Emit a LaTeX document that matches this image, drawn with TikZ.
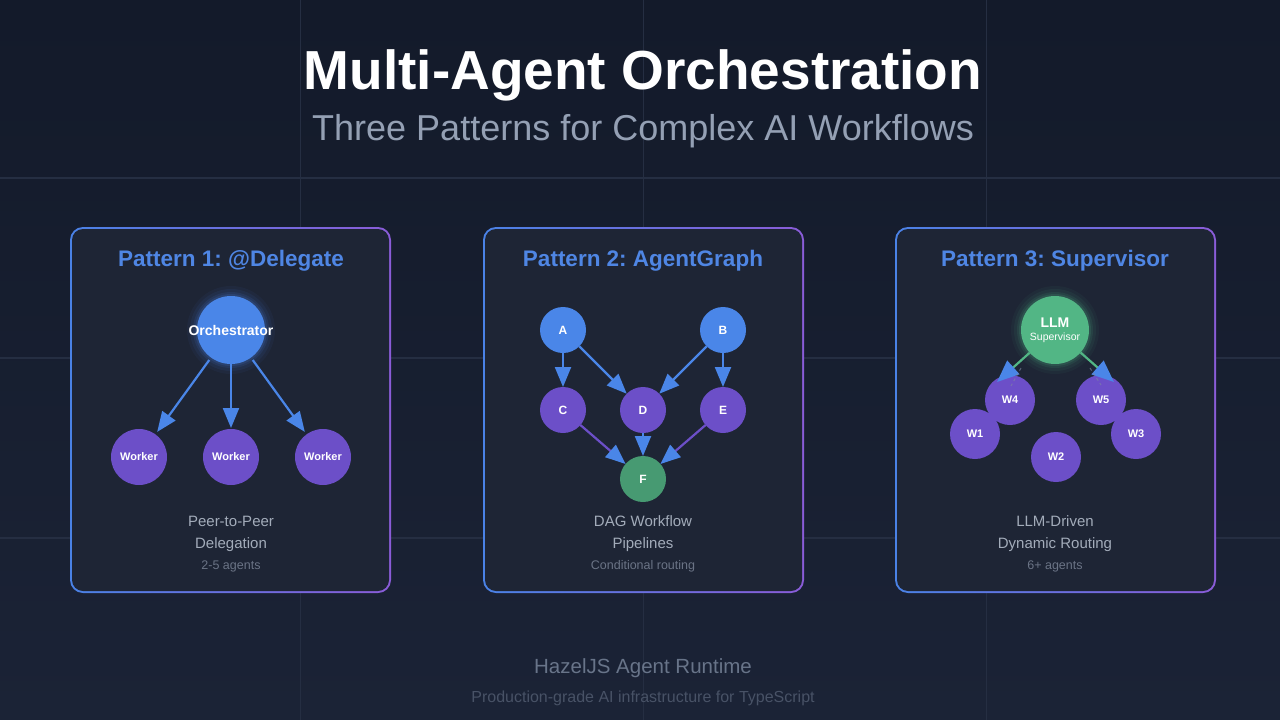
\documentclass[tikz,border=0pt]{standalone}
\usepackage{fontspec}
\setmainfont{Liberation Sans}
\usetikzlibrary{arrows.meta}
\frenchspacing
\definecolor{bgtop}{HTML}{131A2A}
\definecolor{bgbot}{HTML}{1B2336}
\definecolor{gridc}{HTML}{252E42}
\definecolor{panelc}{HTML}{1E2535}
\definecolor{bblue}{HTML}{4A82E6}
\definecolor{bpurple}{HTML}{8A5CD8}
\definecolor{tblue}{HTML}{4F86E4}
\definecolor{nblue}{HTML}{4A86E8}
\definecolor{npurple}{HTML}{6C4FC8}
\definecolor{ngreen}{HTML}{479A72}
\definecolor{lgreen}{HTML}{52B685}
\definecolor{subc}{HTML}{94A0B4}
\definecolor{descc}{HTML}{A3ACBA}
\definecolor{smallc}{HTML}{6B7486}
\definecolor{footc}{HTML}{687489}
\definecolor{foottwoc}{HTML}{485266}
\definecolor{dashc}{HTML}{8088A0}
\newcommand{\fsz}[2]{\fontsize{#1}{#2}\selectfont}
\newcommand{\drawpanel}[1]{%
  \shade[left color=bblue, right color=bpurple, rounded corners=13pt] (#1,227) rectangle ++(321,366);
  \fill[panelc, rounded corners=11pt] (#1+2,229) rectangle ++(317,362);
}
\tikzset{
  txt/.style={inner sep=0pt, outer sep=0pt, anchor=base},
  ptitle/.style={txt, text=tblue, font=\bfseries\fsz{22.5}{26}},
  desc/.style={txt, text=descc, font=\fsz{15}{18}},
  small/.style={txt, text=smallc, font=\fsz{12.5}{15}},
  circ/.style={circle, inner sep=0pt, outer sep=0pt, text=white},
  orchc/.style={circ, fill=nblue, minimum size=68pt},
  workc/.style={circ, fill=npurple, minimum size=56pt, font=\bfseries\fsz{11}{13}},
  dagb/.style={circ, fill=nblue, minimum size=46pt, font=\bfseries\fsz{12}{14}},
  dagp/.style={circ, fill=npurple, minimum size=46pt, font=\bfseries\fsz{12}{14}},
  dagg/.style={circ, fill=ngreen, minimum size=46pt, font=\bfseries\fsz{12}{14}},
  llmc/.style={circ, fill=lgreen, minimum size=68pt, align=center},
  wsc/.style={circ, fill=npurple, minimum size=50pt, font=\bfseries\fsz{11}{13}},
  arr/.style={line width=2.2pt, draw=nblue, -{Triangle[length=20pt,width=16pt,color=nblue]}},
  parr/.style={line width=2.2pt, draw=npurple, -{Triangle[length=20pt,width=16pt,color=nblue]}},
  garr/.style={line width=2.2pt, draw=lgreen, -{Triangle[length=22pt,width=18pt,color=nblue]}},
  dline/.style={draw=dashc, line width=1pt, dashed, opacity=0.6},
}
\begin{document}
\begin{tikzpicture}[x=1pt,y=-1pt]
\useasboundingbox (0,0) rectangle (1280,720);
% background
\shade[top color=bgtop, bottom color=bgbot] (0,0) rectangle (1280,720);
\foreach \gx in {300,643,986} { \draw[gridc, line width=1pt] (\gx,0) -- (\gx,720); }
\foreach \gy in {178,358,538} { \draw[gridc, line width=1.2pt] (0,\gy) -- (1280,\gy); }

% titles
\node[txt, text=white, font=\bfseries\fsz{55}{60}] (title) at (643,89) {Multi-Agent Orchestration};
\node[txt, text=subc, font=\fsz{36}{40}] (subtitle) at (643,140) {Three Patterns for Complex AI Workflows};

% panels
\drawpanel{70}
\drawpanel{483}
\drawpanel{895}

% ---------- Panel 1
\node[ptitle] (p1t) at (231,266.5) {Pattern 1: @Delegate};
\foreach \r/\o in {44/0.05,41/0.07,38/0.1,36/0.14} { \fill[nblue, opacity=\o] (231,330) circle (\r); }
\node[orchc] (orch) at (231,330) {};
\node[circ, font=\bfseries\fsz{14}{16}] (orchT) at (orch.center) {Orchestrator};
\node[workc] (wa) at (139,457) {Worker};
\node[workc] (wb) at (231,457) {Worker};
\node[workc] (wc) at (323,457) {Worker};
\draw[arr, shorten <=3pt, shorten >=3pt] (orch) -- (wa);
\draw[arr, shorten <=0pt, shorten >=1pt] (orch) -- (wb);
\draw[arr, shorten <=3pt, shorten >=3pt] (orch) -- (wc);
\node[desc] (p1d1) at (231,526) {Peer-to-Peer};
\node[desc] (p1d2) at (231,548) {Delegation};
\node[small] (p1d3) at (231,569.5) {2-5 agents};

% ---------- Panel 2
\node[ptitle] (p2t) at (643,266.5) {Pattern 2: AgentGraph};
\node[dagb] (A) at (563,330) {A};
\node[dagb] (B) at (723,330) {B};
\node[dagp] (C) at (563,410) {C};
\node[dagp] (D) at (643,410) {D};
\node[dagp] (E) at (723,410) {E};
\node[dagg] (F) at (643,479) {F};
\draw[arr] (A) -- (C);
\draw[arr] (A) -- (D);
\draw[arr] (B) -- (D);
\draw[arr] (B) -- (E);
\draw[parr] (C) -- (F);
\draw[arr] (D) -- (F);
\draw[parr] (E) -- (F);
\node[desc] (p2d1) at (643,526) {DAG Workflow};
\node[desc] (p2d2) at (643,548) {Pipelines};
\node[small] (p2d3) at (643,569.5) {Conditional routing};

% ---------- Panel 3
\node[ptitle] (p3t) at (1055,266.5) {Pattern 3: Supervisor};
\foreach \r/\o in {44/0.05,41/0.07,38/0.1,36/0.14} { \fill[lgreen, opacity=\o] (1055,330) circle (\r); }
\node[llmc] (llm) at (1055,330) {{\bfseries\fsz{14}{14}LLM}\\[1pt]{\fsz{10.5}{12}Supervisor}};
\node[wsc] (W1) at (975,434) {W1};
\node[wsc] (W3) at (1136,434) {W3};
\node[wsc] (W2) at (1056,457) {W2};
\node[wsc] (W4) at (1010,400) {W4};
\node[wsc] (W5) at (1101,400) {W5};
\coordinate (t4) at (997,382);
\coordinate (t5) at (1114,382);
\draw[garr] (llm) -- (t4);
\draw[garr] (llm) -- (t5);
\coordinate (d4a) at (1021,368);
\coordinate (d4b) at (1011,386);
\coordinate (d5a) at (1090,368);
\coordinate (d5b) at (1101,385);
\draw[dline] (d4a) -- (d4b);
\draw[dline] (d5a) -- (d5b);
\node[desc] (p3d1) at (1055,526) {LLM-Driven};
\node[desc] (p3d2) at (1055,548) {Dynamic Routing};
\node[small] (p3d3) at (1055,569.5) {6+ agents};

% footer
\node[txt, text=footc, font=\fsz{20.5}{24}] (foot1) at (643,673) {HazelJS Agent Runtime};
\node[txt, text=foottwoc, font=\fsz{16}{19}] (foot2) at (643,702) {Production-grade AI infrastructure for TypeScript};
\end{tikzpicture}
\end{document}
